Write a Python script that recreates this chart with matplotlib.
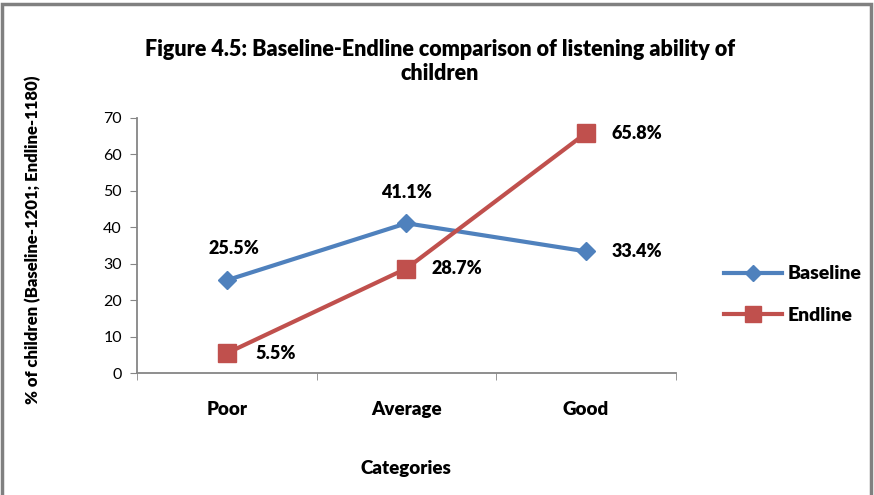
import matplotlib.pyplot as plt
from matplotlib.lines import Line2D

plt.rcParams['font.family'] = ['Lato', 'DejaVu Sans']

categories = ['Poor', 'Average', 'Good']
baseline = [25.5, 41.1, 33.4]
endline = [5.5, 28.7, 65.8]
baseline_labels = ['25.5%', '41.1%', '33.4%']
endline_labels = ['5.5%', '28.7%', '65.8%']

blue = '#4F81BD'
red = '#C0504D'
W = 'heavy'

fig = plt.figure(figsize=(8.74, 4.95), dpi=100)
ax = fig.add_axes([0.157, 0.246, 0.616, 0.516])

x = list(range(len(categories)))
ax.plot(x, baseline, color=blue, linewidth=3.0, marker='D', markersize=9.5,
        markerfacecolor=blue, markeredgecolor=blue, label='Baseline')
ax.plot(x, endline, color=red, linewidth=3.0, marker='s', markersize=13,
        markerfacecolor=red, markeredgecolor=red, label='Endline')

# data labels (offsets in points)
b_off = [(5, 23), (0, 22), (37, 0)]
e_off = [(35, 0), (36, 0), (37, 0)]
for xi, v, lab, off in zip(x, baseline, baseline_labels, b_off):
    ax.annotate(lab, (xi, v), xytext=off, textcoords='offset points',
                ha='center', va='center', fontsize=13, fontweight=W)
for xi, v, lab, off in zip(x, endline, endline_labels, e_off):
    ax.annotate(lab, (xi, v), xytext=off, textcoords='offset points',
                ha='center', va='center', fontsize=13, fontweight=W)

ax.set_xlim(-0.5, 2.5)
ax.set_ylim(0, 70)
ax.set_yticks(range(0, 71, 10))
ax.set_xticks(x)
ax.set_xticklabels(categories, fontsize=13.5, fontweight=W)
ax.set_xticks([-0.5, 0.5, 1.5, 2.5], minor=True)
ax.tick_params(axis='x', which='major', length=0, pad=20)
ax.tick_params(axis='x', which='minor', length=5, color='#868686', direction='out')
ax.tick_params(axis='y', length=5, color='#868686', labelsize=11.5, pad=6)

for s in ['top', 'right']:
    ax.spines[s].set_visible(False)
for s in ['left', 'bottom']:
    ax.spines[s].set_color('#868686')
    ax.spines[s].set_linewidth(1.3)

ax.set_xlabel('Categories', fontsize=13.5, fontweight=W, labelpad=30)
fig.text(0.038, 0.515, '% of children (Baseline-1201; Endline-1180)', rotation=90,
         ha='center', va='center', fontsize=12, fontweight=W)

fig.text(0.503, 0.876, 'Figure 4.5: Baseline-Endline comparison of listening ability of\nchildren',
         ha='center', va='center', fontsize=15.5, fontweight=W, linespacing=1.15)

handles = [Line2D([0], [0], color=blue, linewidth=3.0, marker='D', markersize=8),
           Line2D([0], [0], color=red, linewidth=3.0, marker='s', markersize=11)]
fig.legend(handles, ['Baseline', 'Endline'], loc='center left',
           bbox_to_anchor=(0.808, 0.405), frameon=False, handlelength=3.0,
           handletextpad=0.3, labelspacing=1.25, prop={'size': 14, 'weight': W})

border = plt.Rectangle((0.002, -0.01), 0.994, 1.002, transform=fig.transFigure,
                       fill=False, edgecolor='#808080', linewidth=2.5)
fig.patches.append(border)

fig.savefig('out.png', dpi=100, facecolor='white')
